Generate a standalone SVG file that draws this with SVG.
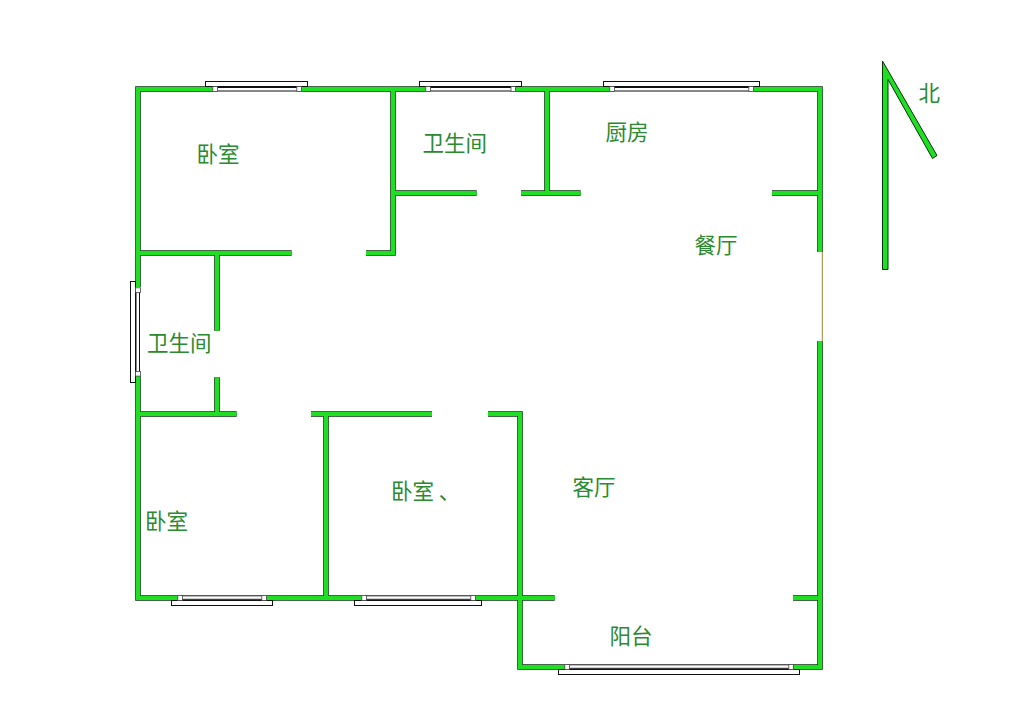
<svg xmlns="http://www.w3.org/2000/svg" xmlns:xlink="http://www.w3.org/1999/xlink" width="1014" height="725" viewBox="0 0 1014 725">
<style>
.wo{fill:none;stroke:#06350a;stroke-width:5.6}
.wg{fill:none;stroke:#1fdf23;stroke-width:4.2}
.frame{fill:#fff;stroke:#111;stroke-width:1}
.sq{fill:#fff;stroke:#444;stroke-width:.8}
.pane{fill:#fff;stroke:#111;stroke-width:1}
.lb{font-family:"Noto Sans CJK SC","Liberation Sans",sans-serif;font-size:21.5px;font-weight:400;fill:#2a8a30}
</style>
<defs>
<path id="w" d="M138 287V89H213M301 89H426M515 89H610M753 89H820V252M138 376V598H178M266 598H362M475 598H554.7M488 414H520V667H565M793 667H820V341M793 598H820M138 253H291.7M366 253H393V89M217 253V330.7M217 377.3V414M138 414H236.7M311 414H432M326 414V598M393 193H476.7M521 193H580.7M547 89V193M772 193H820"/>
</defs>
<rect width="1014" height="725" fill="#fff"/>
<g id="walls">
<use xlink:href="#w" href="#w" class="wo"/>
<use xlink:href="#w" href="#w" class="wg"/>
<path d="M822.3 252V341" fill="none" stroke="#8a8a30" stroke-width="1"/>
</g>
<g id="windows">
<rect class="frame" x="205.5" y="81.5" width="102" height="5"/><rect class="pane" x="215" y="87.5" width="84" height="3.5"/><rect class="sq" x="212.8" y="86.5" width="4.6" height="5"/><rect class="sq" x="296.8" y="86.5" width="4.6" height="5"/>
<rect class="frame" x="419.5" y="81.5" width="102" height="5"/><rect class="pane" x="428" y="87.5" width="85" height="3.5"/><rect class="sq" x="425.8" y="86.5" width="4.6" height="5"/><rect class="sq" x="511" y="86.5" width="4.6" height="5"/>
<rect class="frame" x="603.5" y="81.5" width="156" height="5"/><rect class="pane" x="612" y="87.5" width="139" height="3.5"/><rect class="sq" x="609.8" y="86.5" width="4.6" height="5"/><rect class="sq" x="748.8" y="86.5" width="4.6" height="5"/>
<rect class="frame" x="130.5" y="281.5" width="5" height="101"/><rect class="pane" x="136" y="290" width="3.5" height="84"/><rect class="sq" x="135.5" y="287.8" width="5" height="4.6"/><rect class="sq" x="135.5" y="371.5" width="5" height="4.6"/>
<rect class="frame" x="171.5" y="600.5" width="101" height="5"/><rect class="pane" x="180" y="595.8" width="84" height="3.5"/><rect class="sq" x="177.8" y="595.5" width="4.6" height="5"/><rect class="sq" x="261.8" y="595.5" width="4.6" height="5"/>
<rect class="frame" x="354.5" y="600.5" width="127" height="5"/><rect class="pane" x="364" y="595.8" width="109" height="3.5"/><rect class="sq" x="361.8" y="595.5" width="4.6" height="5"/><rect class="sq" x="470.8" y="595.5" width="4.6" height="5"/>
<rect class="frame" x="558.5" y="669.5" width="241" height="5"/><rect class="pane" x="567" y="664.8" width="224" height="3.5"/><rect class="sq" x="564.8" y="664.5" width="4.6" height="5"/><rect class="sq" x="788.8" y="664.5" width="4.6" height="5"/>
</g>
<g id="north">
<path d="M882.5 61L937 155.5L932.5 158.5L888 79.5V269.5H882.5Z" fill="#1fdf23" stroke="#06350a" stroke-width="1"/>
<text class="lb" x="918.5" y="100.5">北</text>
</g>
<g id="labels">
<text id="bedroom-1" class="lb" x="196.5" y="161.5">卧室</text>
<text id="bath-1" class="lb" x="422.5" y="150.5">卫生间</text>
<text id="kitchen" class="lb" x="605.5" y="139.5">厨房</text>
<text id="dining" class="lb" x="694.5" y="252.5">餐厅</text>
<text id="bath-2" class="lb" x="147" y="350.5">卫生间</text>
<text id="bedroom-2" class="lb" x="145" y="528.5">卧室</text>
<text id="bedroom-3" class="lb" x="391" y="498.5" xml:space="preserve">卧室 、</text>
<text id="living" class="lb" x="572.5" y="494.5">客厅</text>
<text id="balcony" class="lb" x="609.5" y="643.5">阳台</text>
</g>
</svg>
